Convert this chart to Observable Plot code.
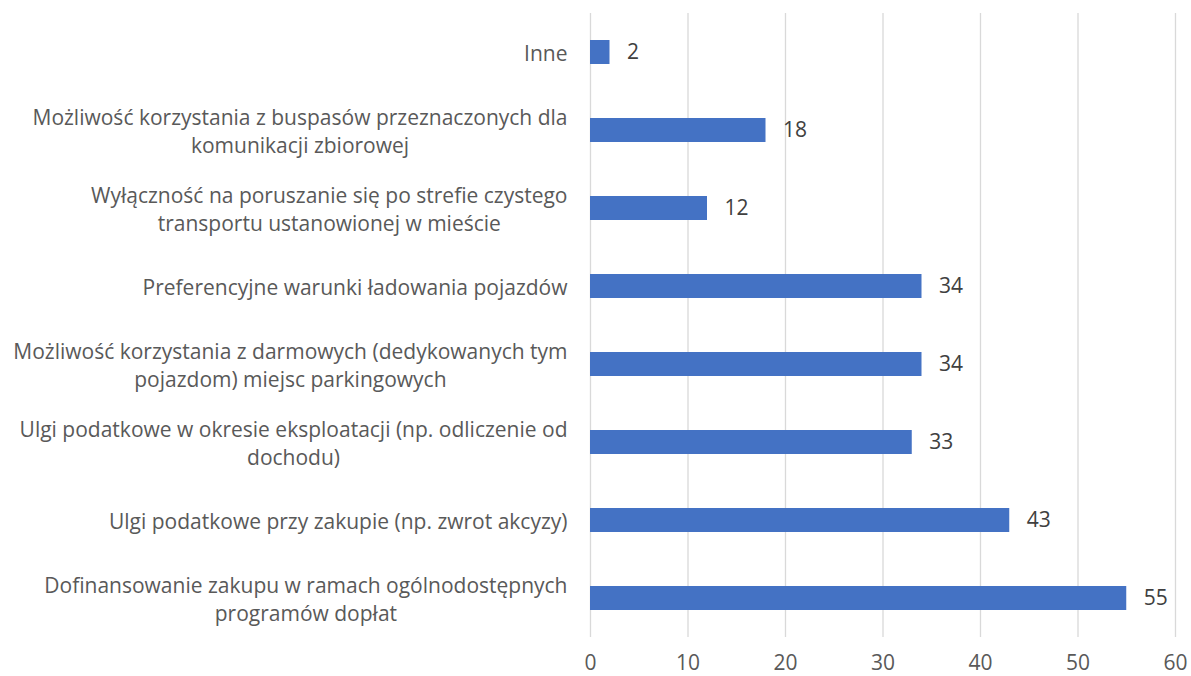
<!DOCTYPE html>
<html><head><meta charset="utf-8">
<script src="https://cdn.jsdelivr.net/npm/d3@7"></script>
<script src="https://cdn.jsdelivr.net/npm/@observablehq/plot@0.6"></script>
<style>
body{margin:0;background:#fff;}
svg{font-family:"Open Sans",sans-serif;}
</style>
</head><body>
<div id="chart"></div>
<script>
const categories = [
  "Inne",
  "Możliwość korzystania z buspasów przeznaczonych dla\nkomunikacji zbiorowej",
  "Wyłączność na poruszanie się po strefie czystego\ntransportu ustanowionej w mieście",
  "Preferencyjne warunki ładowania pojazdów",
  "Możliwość korzystania z darmowych (dedykowanych tym\npojazdom) miejsc parkingowych",
  "Ulgi podatkowe w okresie eksploatacji (np. odliczenie od\ndochodu)",
  "Ulgi podatkowe przy zakupie (np. zwrot akcyzy)",
  "Dofinansowanie zakupu w ramach ogólnodostępnych\nprogramów dopłat"
];
const values = [2, 18, 12, 34, 34, 33, 43, 55];
const xTicks = [0, 10, 20, 30, 40, 50, 60];

const data = categories.map((c, i) => ({category: c, value: values[i]}));

const chart = Plot.plot({
  width: 1191,
  height: 676,
  marginLeft: 590,
  marginRight: 16,
  marginTop: 13,
  marginBottom: 39,
  style: {fontFamily: "'Open Sans', sans-serif", background: "#fff"},
  x: {domain: [0, 60]},
  y: {domain: categories, paddingInner: 0.69, paddingOuter: 0.345, axis: null},
  marks: [
    Plot.gridX(xTicks, {stroke: "#d9d9d9", strokeOpacity: 1, strokeWidth: 1.3}),
    Plot.barX(data, {x: "value", y: "category", fill: "#4472c4"}),
    Plot.text(data, {x: 0, y: "category", text: "category", textAnchor: "end", dx: -23,
      fontSize: 21, fill: "#595959", lineHeight: 1.33}),
    Plot.text(data, {x: "value", y: "category", text: d => String(d.value), textAnchor: "start", dx: 17,
      fontSize: 21, fill: "#404040"}),
    Plot.axisX(xTicks, {tickSize: 0, tickPadding: 18, fontSize: 21, color: "#595959", label: null})
  ]
});
document.getElementById("chart").appendChild(chart);

// center-align multi-line category labels within their right-aligned block (as in the original)
const textGroups = chart.querySelectorAll('g[aria-label="text"]');
if (textGroups.length) {
  textGroups[0].querySelectorAll("text").forEach(t => {
    const spans = t.querySelectorAll("tspan");
    if (spans.length > 1) {
      const w = t.getBBox().width;
      t.setAttribute("text-anchor", "middle");
      spans.forEach(s => s.setAttribute("x", -w / 2));
    }
  });
}
</script>
</body></html>
